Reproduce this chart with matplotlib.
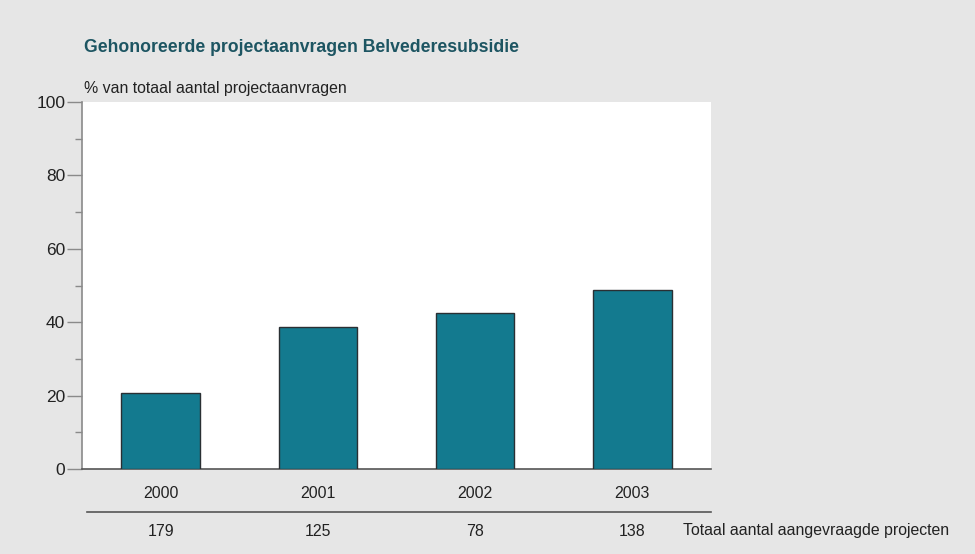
import matplotlib
matplotlib.use("Agg")
import matplotlib.pyplot as plt
from matplotlib import font_manager

years = ["2000", "2001", "2002", "2003"]
percent = [20.7, 38.6, 42.4, 48.7]
totals = ["179", "125", "78", "138"]
yticks = [0, 20, 40, 60, 80, 100]
title = "Gehonoreerde projectaanvragen Belvederesubsidie"
ylabel = "% van totaal aantal projectaanvragen"
total_label = "Totaal aantal aangevraagde projecten"

names = {f.name for f in font_manager.fontManager.ttflist}
fam = "Liberation Sans Narrow" if "Liberation Sans Narrow" in names else "Liberation Sans"
plt.rcParams["font.family"] = [fam, "DejaVu Sans"]

W, H = 975, 554
fig = plt.figure(figsize=(W / 100, H / 100), dpi=100)
fig.patch.set_facecolor("#e6e6e6")

L, R, T, B = 82, 711, 102, 469
ax = fig.add_axes([L / W, 1 - B / H, (R - L) / W, (B - T) / H])
ax.set_facecolor("white")

x = list(range(len(years)))
ax.bar(x, percent, width=0.5, color="#137a8f", edgecolor="#2a2f33", linewidth=1.0, zorder=3)
ax.set_xlim(-0.5, len(years) - 0.5)
ax.set_ylim(0, 100)

for s in ["top", "right"]:
    ax.spines[s].set_visible(False)
ax.spines["left"].set_color("#8a8a8a")
ax.spines["left"].set_linewidth(1.2)
ax.spines["bottom"].set_color("#555555")
ax.spines["bottom"].set_linewidth(1.2)

ax.set_yticks(yticks)
ax.set_yticks([10, 30, 50, 70, 90], minor=True)
ax.tick_params(axis="y", which="major", direction="out", length=11, width=1, color="#8a8a8a",
               labelsize=12.5, pad=1, labelcolor="#222222")
ax.tick_params(axis="y", which="minor", direction="out", length=5, width=1, color="#8a8a8a", pad=0)
ax.set_xticks([])

fs = 11.4
fig.text(84 / W, 1 - 47 / H, title, fontsize=12.7, fontweight="bold", color="#1d5562",
         ha="left", va="center")
fig.text(84 / W, 1 - 88 / H, ylabel, fontsize=fs, color="#222222", ha="left", va="center")

trans = ax.get_xaxis_transform()
for i, (yr, tot) in enumerate(zip(years, totals)):
    ax.text(i, -(494 - B) / (B - T), yr, transform=trans, ha="center", va="center",
            fontsize=fs, color="#222222", clip_on=False)
    ax.text(i, -(531 - B) / (B - T), tot, transform=trans, ha="center", va="center",
            fontsize=fs, color="#222222", clip_on=False)

fig.add_artist(plt.Line2D([87 / W, R / W], [1 - 512 / H, 1 - 512 / H], color="#555555", linewidth=1.2))
fig.text(683 / W, 1 - 531 / H, total_label, fontsize=fs, color="#222222", ha="left", va="center")

fig.savefig("out.png", dpi=100, facecolor=fig.get_facecolor())
